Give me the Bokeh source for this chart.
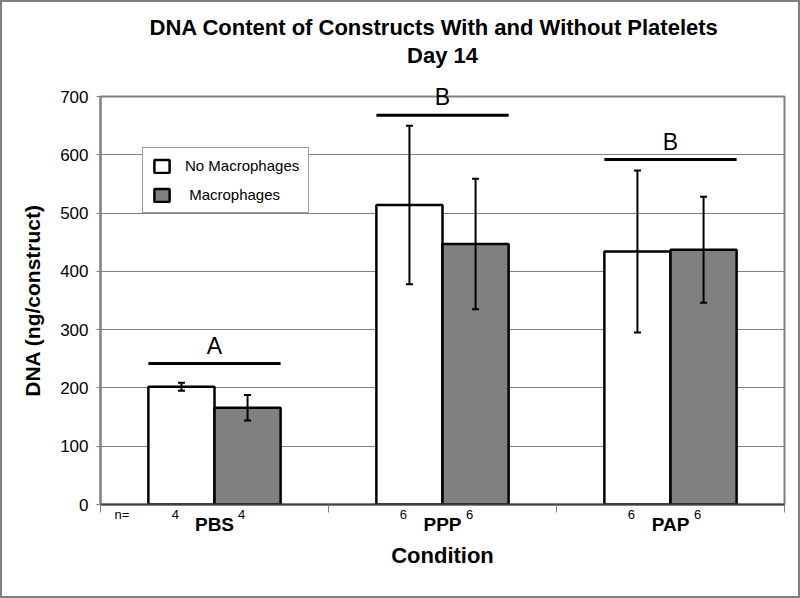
import numpy as np
from bokeh.plotting import figure
from bokeh.models import (ColumnDataSource, Whisker, TeeHead, Label, Legend, LegendItem,
                          FixedTicker, Range1d, LinearAxis, Title)
from bokeh.embed import file_html
from bokeh.resources import INLINE

# ---- data ----
categories = ["PBS", "PPP", "PAP"]
no_mac = [202, 514, 434]
no_mac_err = [7, 136, 139]
mac = [166, 447, 437]
mac_err = [22, 112, 91]
n_no_mac = [4, 6, 6]
n_mac = [4, 6, 6]
sig_letters = ["A", "B", "B"]
sig_line_y = [242, 668, 592]
y_ticks = [0, 100, 200, 300, 400, 500, 600, 700]
series_labels = ["No Macrophages", " Macrophages"]
title_lines = ["DNA Content of Constructs With and Without Platelets", "Day 14"]

FONT = "Liberation Sans"
GRAY = "#808080"
Y_MAX = 700
FRAME_H = 408          # px
PX_PER_UNIT = FRAME_H / Y_MAX
LETTER_GAP = 4         # px between line and letter box
LETTER_H = 24          # px approximate letter box height

idx = np.arange(len(categories))
centers = idx + 0.5
bw = 0.29
x_white = centers - bw / 2
x_gray = centers + bw / 2

p = figure(width=800, height=598, x_range=Range1d(0, 3), y_range=Range1d(0, Y_MAX),
           output_backend="svg", toolbar_location=None,
           min_border_left=98, min_border_right=18, min_border_top=94, min_border_bottom=96)
p.styles = {"border": "2px solid #808080"}
p.title.visible = False
p.outline_line_color = GRAY
p.outline_line_width = 2
p.background_fill_color = "white"
p.border_fill_color = "white"

p.xgrid.grid_line_color = None
p.ygrid.grid_line_color = GRAY
p.ygrid.grid_line_width = 1
p.ygrid.ticker = FixedTicker(ticks=y_ticks)

xa = p.below[0]   # default bottom axis

# significance letters: those that would stick out of the frame go on an axis above
inside = [(c, yv, l) for c, yv, l in zip(centers, sig_line_y, sig_letters)
          if (Y_MAX - yv) * PX_PER_UNIT > LETTER_GAP + LETTER_H]
outside = [(c, yv, l) for c, yv, l in zip(centers, sig_line_y, sig_letters)
           if (Y_MAX - yv) * PX_PER_UNIT <= LETTER_GAP + LETTER_H]
top_ticks = [float(c) for c, _, _ in outside]
top_axis = LinearAxis(ticker=FixedTicker(ticks=top_ticks, minor_ticks=[]),
                      major_label_overrides={float(c): l for c, _, l in outside},
                      axis_line_color=None, major_tick_line_color=None,
                      minor_tick_line_color=None, major_tick_out=0, major_tick_in=0,
                      minor_tick_out=0, major_label_text_font=FONT,
                      major_label_text_font_size="23px", major_label_text_color="black",
                      major_label_standoff=-13,
                      axis_label=title_lines[1], axis_label_text_font=FONT,
                      axis_label_text_font_style="bold", axis_label_text_font_size="22px",
                      axis_label_text_color="black", axis_label_standoff=13)
p.add_layout(top_axis, "above")

# title first line
p.add_layout(Title(text=title_lines[0], align="left", offset=49, standoff=0,
                   text_font=FONT, text_font_style="bold", text_font_size="22px",
                   text_color="black"), "above")

# y axis
p.yaxis.ticker = FixedTicker(ticks=y_ticks)
p.yaxis.axis_line_color = GRAY
p.yaxis.axis_line_width = 2
p.yaxis.major_tick_line_color = GRAY
p.yaxis.major_tick_out = 4
p.yaxis.major_tick_in = 0
p.yaxis.minor_tick_line_color = None
p.yaxis.major_label_text_font = FONT
p.yaxis.major_label_text_font_size = "17px"
p.yaxis.major_label_text_color = "black"
p.yaxis.major_label_standoff = 8
p.yaxis.axis_label = "DNA (ng/construct)"
p.yaxis.axis_label_text_font = FONT
p.yaxis.axis_label_text_font_style = "bold"
p.yaxis.axis_label_text_font_size = "21px"
p.yaxis.axis_label_text_color = "black"
p.yaxis.axis_label_standoff = 13

# x axis 1 (adjacent to frame): group sizes "n="
shift = -6 / 228.0
n_ticks = [0.094] + [round(float(v) + shift, 4) for v in x_white] + \
          [round(float(v) + shift, 4) for v in x_gray]
n_texts = ["n="] + [str(v) for v in n_no_mac] + [str(v) for v in n_mac]
xa.ticker = FixedTicker(ticks=n_ticks, minor_ticks=list(range(len(categories) + 1)))
xa.major_label_overrides = {t: s for t, s in zip(n_ticks, n_texts)}
xa.axis_line_color = "#404040"
xa.axis_line_width = 2
xa.major_tick_line_color = None
xa.major_tick_out = 0
xa.major_tick_in = 0
xa.minor_tick_line_color = GRAY
xa.minor_tick_out = 8
xa.minor_tick_in = 0
xa.major_label_text_font = FONT
xa.major_label_text_font_size = "13px"
xa.major_label_text_color = "black"
xa.major_label_standoff = -6

# x axis 2: categories + axis title
xc = LinearAxis(ticker=FixedTicker(ticks=list(centers), minor_ticks=[]),
                major_label_overrides={float(c): cat for c, cat in zip(centers, categories)},
                axis_line_color=None, major_tick_line_color=None, minor_tick_line_color=None,
                major_tick_out=0, major_tick_in=0, minor_tick_out=0,
                major_label_text_font=FONT, major_label_text_font_style="bold",
                major_label_text_font_size="19px", major_label_text_color="black",
                major_label_standoff=-11,
                axis_label="Condition", axis_label_text_font=FONT,
                axis_label_text_font_style="bold", axis_label_text_font_size="22px",
                axis_label_text_color="black", axis_label_standoff=5)
p.add_layout(xc, "below")

src_w = ColumnDataSource(dict(x=x_white, top=no_mac,
                              upper=np.array(no_mac) + np.array(no_mac_err),
                              lower=np.array(no_mac) - np.array(no_mac_err)))
src_g = ColumnDataSource(dict(x=x_gray, top=mac,
                              upper=np.array(mac) + np.array(mac_err),
                              lower=np.array(mac) - np.array(mac_err)))

r_w = p.vbar(x="x", top="top", width=bw, source=src_w, fill_color="white",
             line_color="black", line_width=2.5)
r_g = p.vbar(x="x", top="top", width=bw, source=src_g, fill_color=GRAY,
             line_color="black", line_width=2.5)

for src in (src_w, src_g):
    w = Whisker(source=src, base="x", upper="upper", lower="lower",
                line_color="black", line_width=2, level="annotation",
                upper_head=TeeHead(size=7, line_color="black", line_width=2),
                lower_head=TeeHead(size=7, line_color="black", line_width=2))
    p.add_layout(w)

# significance lines and in-frame letters
half = 0.29
p.segment(x0=centers - half, x1=centers + half, y0=sig_line_y, y1=sig_line_y,
          line_color="black", line_width=3)
for c, yv, letter in inside:
    p.add_layout(Label(x=c, y=yv, text=letter, text_align="center",
                       text_baseline="bottom", y_offset=LETTER_GAP,
                       text_font=FONT, text_font_size="23px", text_color="black"))

legend = Legend(items=[LegendItem(label=series_labels[0], renderers=[r_w]),
                       LegendItem(label=series_labels[1], renderers=[r_g])],
                location=(42, 291), orientation="vertical",
                border_line_color="#404040", border_line_width=1,
                background_fill_color="white", background_fill_alpha=1,
                padding=9, spacing=12, margin=0,
                glyph_width=19, glyph_height=16, label_height=16,
                label_standoff=14, label_text_font=FONT,
                label_text_font_size="15px", label_text_color="black")
p.add_layout(legend, "center")

open("out.html", "w").write(file_html(p, INLINE))
